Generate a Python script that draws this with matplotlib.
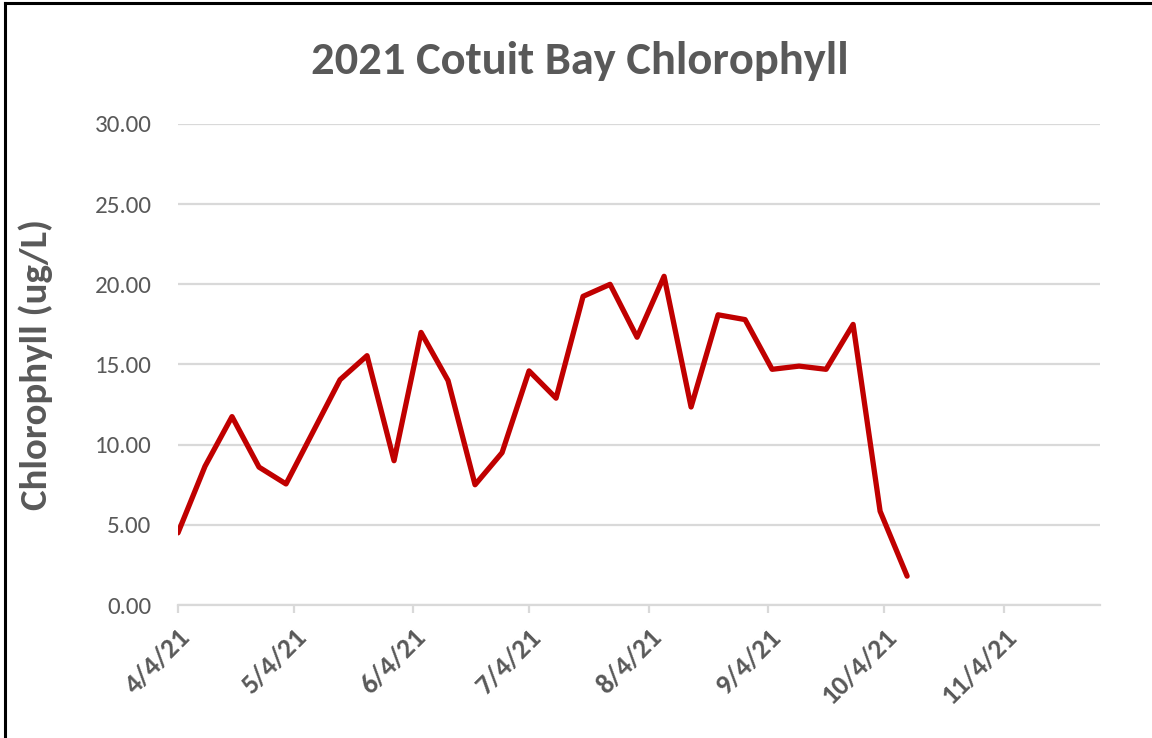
import matplotlib
matplotlib.use("Agg")
import matplotlib.pyplot as plt
from matplotlib.lines import Line2D
import datetime as dt

# ---- data ----
dates = ["2021-04-04", "2021-04-11", "2021-04-18", "2021-04-25", "2021-05-02",
         "2021-05-09", "2021-05-16", "2021-05-23", "2021-05-30", "2021-06-06",
         "2021-06-13", "2021-06-20", "2021-06-27", "2021-07-04", "2021-07-11",
         "2021-07-18", "2021-07-25", "2021-08-01", "2021-08-08", "2021-08-15",
         "2021-08-22", "2021-08-29", "2021-09-05", "2021-09-12", "2021-09-19",
         "2021-09-26", "2021-10-03", "2021-10-10"]
chlorophyll = [4.5, 8.65, 11.75, 8.6, 7.55, 10.8, 14.05, 15.55, 9.0, 17.0,
               14.0, 7.5, 9.5, 14.6, 12.9, 19.25, 20.0, 16.7, 20.5, 12.35,
               18.1, 17.8, 14.7, 14.9, 14.7, 17.5, 5.85, 1.8]
tick_dates = ["2021-04-04", "2021-05-04", "2021-06-04", "2021-07-04",
              "2021-08-04", "2021-09-04", "2021-10-04", "2021-11-04"]
tick_labels = ["4/4/21", "5/4/21", "6/4/21", "7/4/21", "8/4/21", "9/4/21",
               "10/4/21", "11/4/21"]
y_ticks = [0, 5, 10, 15, 20, 25, 30]
title = "2021 Cotuit Bay Chlorophyll"
y_label = "Chlorophyll (ug/L)"

plt.rcParams['font.family'] = ['Carlito', 'DejaVu Sans']

x = [dt.datetime.strptime(d, "%Y-%m-%d") for d in dates]
xt = [dt.datetime.strptime(d, "%Y-%m-%d") for d in tick_dates]

fig = plt.figure(figsize=(11.52, 7.38), dpi=100)
ax = fig.add_axes([178/1152, 1-605/738, (1100-178)/1152, (605-124)/738])

ax.plot(x, chlorophyll, color="#c00000", lw=3.8, solid_joinstyle="round",
        solid_capstyle="round", zorder=3)

ax.set_xlim(dt.datetime(2021, 4, 4), dt.datetime(2021, 11, 29))
ax.set_ylim(0, 30)
ax.set_yticks(y_ticks)
ax.set_yticklabels([f"{v:.2f}" for v in y_ticks])
ax.set_xticks(xt)
ax.set_xticklabels(tick_labels, rotation=45, ha="right", rotation_mode="anchor",
                   fontweight="bold")

ax.grid(axis="y", color="#d9d9d9", lw=1.6)
ax.grid(axis="x", visible=False)
ax.set_axisbelow(True)
for s in ["top", "right", "left"]:
    ax.spines[s].set_visible(False)
ax.spines["bottom"].set_color("#d9d9d9")
ax.spines["bottom"].set_linewidth(1.6)

ax.tick_params(axis="y", length=0, pad=19, labelsize=18, labelcolor="#595959")
ax.tick_params(axis="x", length=6, width=1.6, color="#d9d9d9", pad=8,
               labelsize=20, labelcolor="#595959")

ax.set_ylabel(y_label, fontsize=28, fontweight="bold", color="#595959")
ax.yaxis.set_label_coords((53-178)/(1100-178), 0.5)

fig.text(580/1152, 1-74/738, title, ha="center", va="baseline", fontsize=33.5,
         fontweight="bold", color="#595959")

# frame lines (image border)
fig.add_artist(Line2D([5/1152, 5/1152], [0, 1-3/738], transform=fig.transFigure,
                      color="black", lw=2.2))
fig.add_artist(Line2D([5/1152, 1], [1-3/738, 1-3/738], transform=fig.transFigure,
                      color="black", lw=2.2))

fig.savefig("out.png", dpi=100)
